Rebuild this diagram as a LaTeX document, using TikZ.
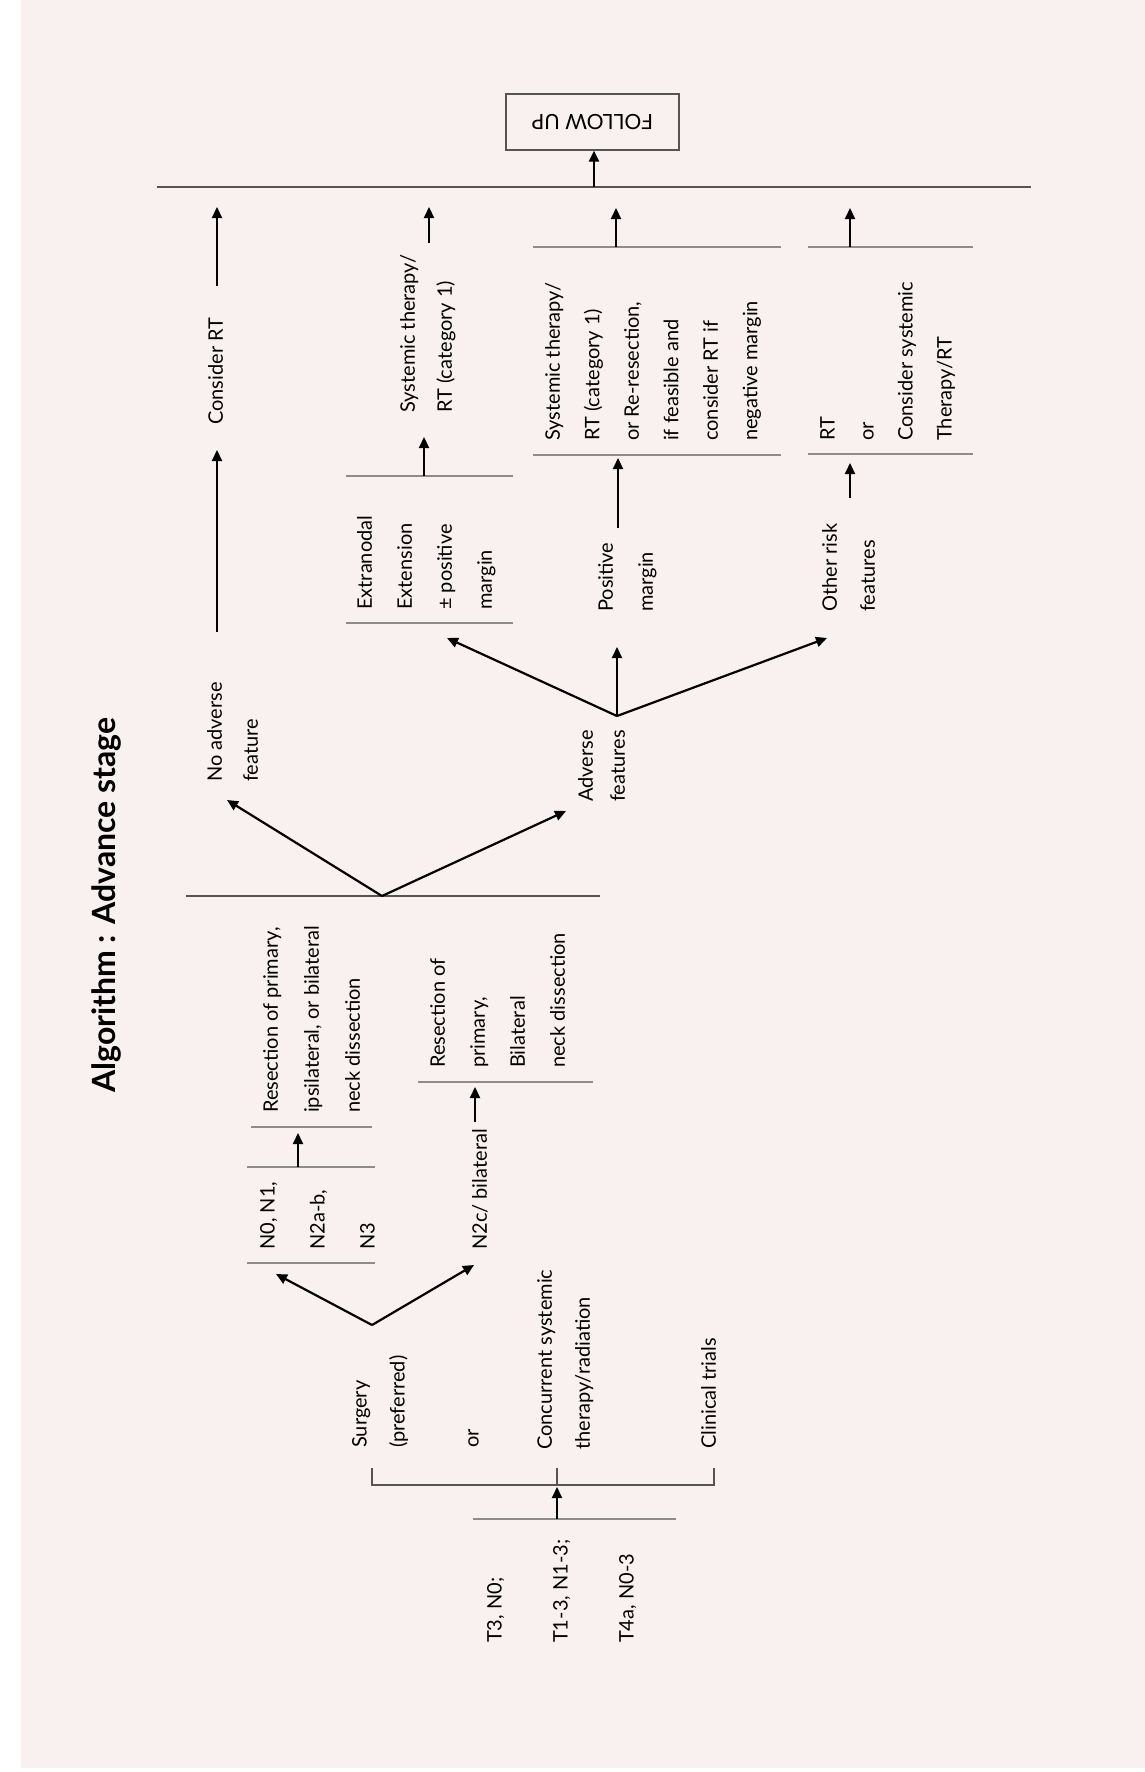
\documentclass[tikz,border=0pt]{standalone}
\usepackage{fontspec}
\setmainfont{Lato}
\usepackage{graphicx}
\usetikzlibrary{arrows.meta}
\definecolor{panel}{RGB}{249,241,239}
\definecolor{rulegray}{RGB}{140,140,140}
\definecolor{linegray}{RGB}{85,85,85}

\begin{document}
\begin{tikzpicture}[x=1pt, y=-1pt, >={Triangle[length=11pt,width=10pt]},
  every node/.style={font=\fontsize{20}{40}\selectfont},
  txt/.style={rotate=90, anchor=north west, inner sep=0pt, align=left, font=\fontsize{20}{#1}\selectfont},
  txt/.default=40,
  arr/.style={->, line width=2.2pt},
  rulel/.style={line width=2.4pt, rulegray},
  thinl/.style={line width=1.3pt, linegray}]
\fill[white] (0,0) rectangle (1145,1772);
\fill[panel] (21,0) rectangle (1145,1768);
\useasboundingbox (0,0) rectangle (1145,1772);

\node[rotate=90, anchor=north west, inner sep=0pt, font=\fontsize{32}{38}\selectfont\bfseries] (title) at (92,1093) {Algorithm : Advance stage};

\node[draw=linegray, line width=1.3pt, minimum width=173pt, minimum height=56pt, inner sep=0pt, font=\fontsize{21}{25}\selectfont] (followup) at (592.5,122) {\rotatebox{180}{FOLLOW UP}};
\coordinate (topL) at (157,187);
\coordinate (topR) at (1031,187);
\coordinate (fu) at (594,187);
\draw[thinl] (topL) -- (topR);
\draw[arr] (fu) -- (fu |- followup.south);

% text blocks
\node[txt=36] (noadv) at (207,782) {No adverse\\feature};
\node[txt] (consrt) at (208,425) {Consider RT};
\node[txt=40] (extra) at (357,610) {Extranodal\\Extension\\± positive\\margin};
\node[txt=37] (sysrt) at (400,413) {Systemic therapy/\\RT (category 1)};
\node[txt=32] (adv) at (578,802) {Adverse\\features};
\node[txt=40] (posm) at (598,612) {Positive\\margin};
\node[txt=39.5] (sysre) at (545,441) {Systemic therapy/\\RT (category 1)\\or Re-resection,\\if feasible and\\consider RT if\\negative margin};
\node[txt=38] (other) at (822,612) {Other risk\\features};
\node[txt=39] (rtor) at (820,441) {RT\\or\\Consider systemic\\Therapy/RT};
\node[txt=41] (resip) at (263,1113) {Resection of primary,\\ipsilateral, or bilateral\\neck dissection};
\node[txt=50] (nzero) at (260,1250) {N0, N1,\\N2a-b,\\N3};
\node[txt] (ntwoc) at (472,1250) {N2c/ bilateral};
\node[txt=40] (resbi) at (430,1068) {Resection of\\primary,\\Bilateral\\neck dissection};
\node[txt=38] (surg) at (352,1448) {Surgery\\(preferred)};
\node[txt] (ortxt) at (468,1448) {or};
\node[txt=38] (concur) at (537,1450) {Concurrent systemic\\therapy/radiation};
\node[txt] (trials) at (701,1449) {Clinical trials};
\node[txt=66] (stage) at (487,1643) {T3, N0;\\T1-3, N1-3;\\T4a, N0-3};

% rules
\draw[rulel] (346,623) -- (513,623) (346,476) -- (513,476);
\draw[rulel] (533,455) -- (781,455) (533,247) -- (781,247);
\draw[rulel] (808,454) -- (973,454) (808,247) -- (973,247);
\draw[rulel] (251,1127) -- (372,1127);
\draw[rulel] (247,1167) -- (375,1167) (247,1263) -- (375,1263);
\draw[rulel] (418,1082) -- (593,1082);
\draw[rulel] (473,1519) -- (676,1519);

% forks and bracket
\coordinate (fk1) at (382,896);
\coordinate (fk2) at (617,716);
\coordinate (fk3) at (372,1325);
\draw[thinl] (186,896) -- (600,896);
\draw[thinl] (372,1468) -- (372,1485) -- (714,1485) -- (714,1468);
\draw[thinl] (557,1468) -- (557,1485);

% arrows
\coordinate (noadvIn) at (227,800);
\coordinate (advIn) at (566,811);
\coordinate (extraIn) at (447,638);
\coordinate (posmIn) at (617,647);
\coordinate (otherIn) at (827,638);
\coordinate (nzeroIn) at (276,1274);
\coordinate (ntwocIn) at (474,1265);
\draw[arr] (fk1) -- (noadvIn);
\draw[arr] (fk1) -- (advIn);
\draw[arr] (fk2) -- (extraIn);
\draw[arr] (fk2) -- (posmIn);
\draw[arr] (fk2) -- (otherIn);
\draw[arr] (fk3) -- (nzeroIn);
\draw[arr] (fk3) -- (ntwocIn);

\coordinate (c1a) at (217,632);
\coordinate (c1b) at (217,450);
\coordinate (c1c) at (217,286);
\coordinate (c1d) at (217,207);
\coordinate (c2a) at (424,476);
\coordinate (c2b) at (424,437);
\coordinate (c2c) at (429,243);
\coordinate (c2d) at (429,207);
\coordinate (c3a) at (618,528);
\coordinate (c3b) at (618,458);
\coordinate (c3c) at (616,247);
\coordinate (c3d) at (616,208);
\coordinate (c4a) at (850,498);
\coordinate (c4b) at (850,463);
\coordinate (c4c) at (850,247);
\coordinate (c4d) at (850,208);
\draw[arr] (c1a) -- (c1b);
\draw[arr] (c1c) -- (c1d);
\draw[arr] (c2a) -- (c2b);
\draw[arr] (c2c) -- (c2d);
\draw[arr] (c3a) -- (c3b);
\draw[arr] (c3c) -- (c3d);
\draw[arr] (c4a) -- (c4b);
\draw[arr] (c4c) -- (c4d);

\coordinate (n1a) at (298,1167);
\coordinate (n1b) at (298,1133);
\coordinate (n2a) at (475,1122);
\coordinate (n2b) at (475,1087);
\coordinate (st1) at (557,1519);
\coordinate (st2) at (557,1487);
\draw[arr] (n1a) -- (n1b);
\draw[arr] (n2a) -- (n2b);
\draw[arr] (st1) -- (st2);
\end{tikzpicture}
\end{document}
